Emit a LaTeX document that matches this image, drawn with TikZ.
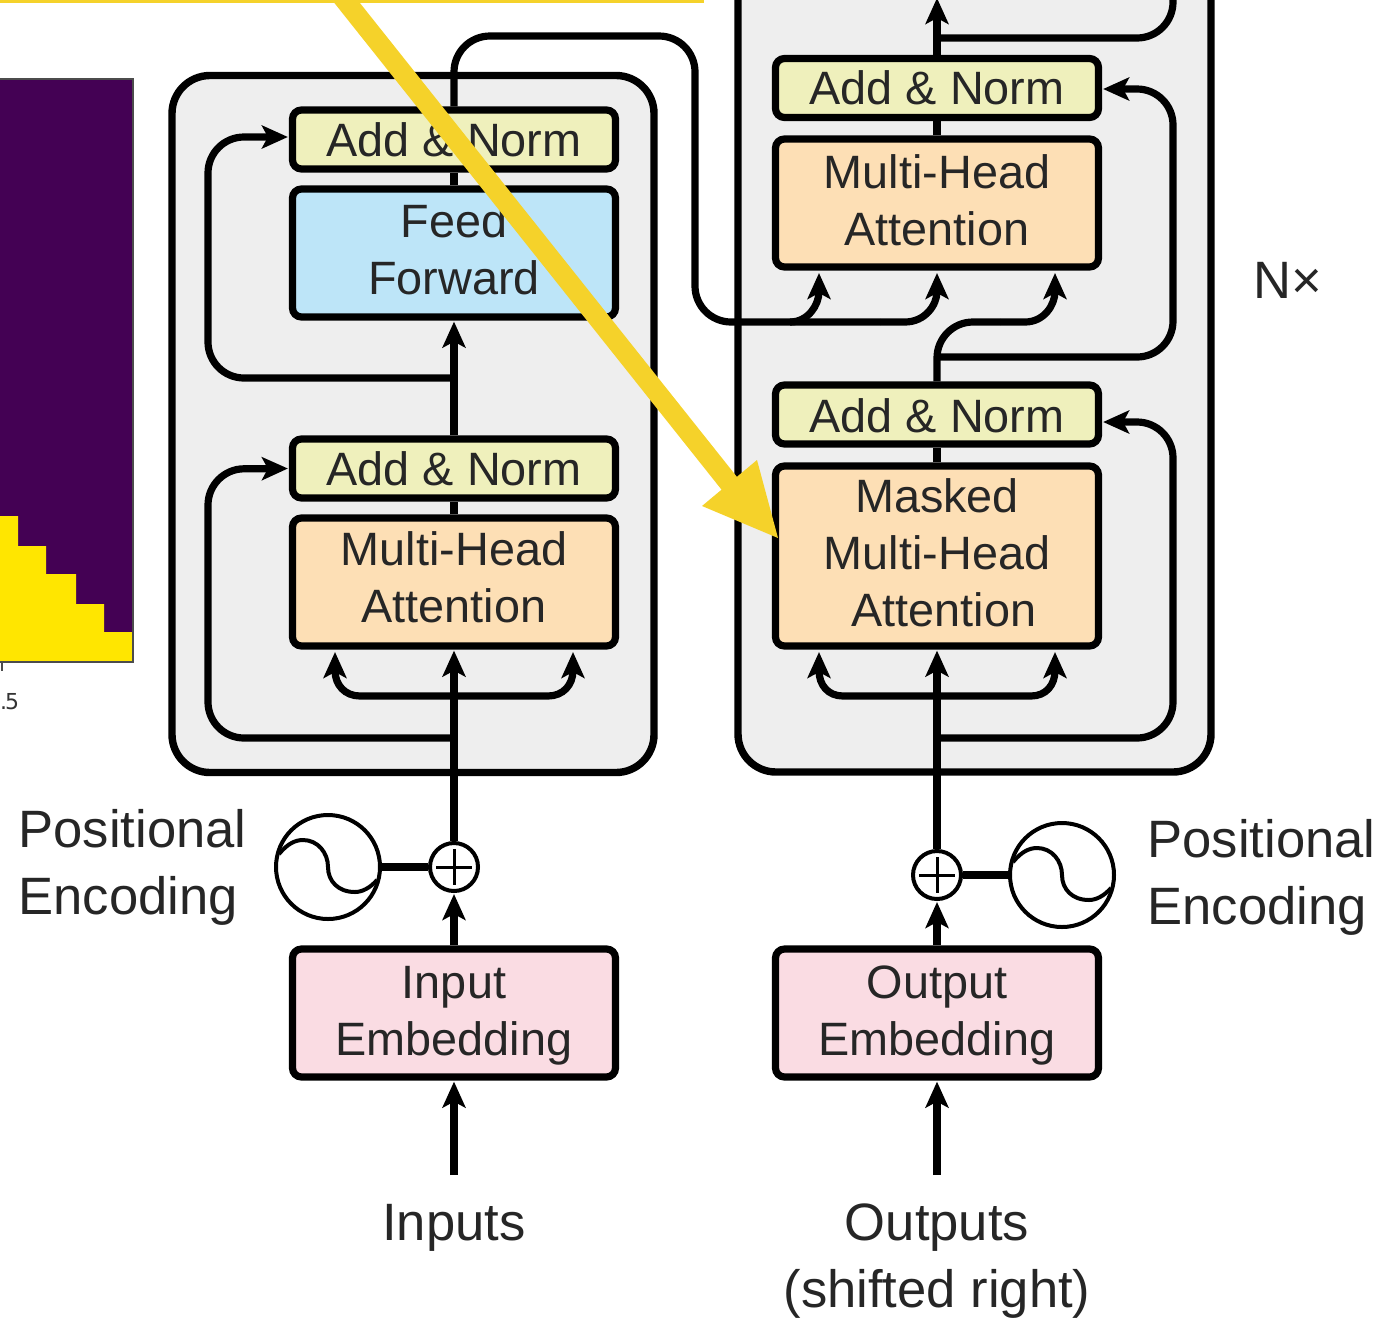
\documentclass[tikz,border=0pt]{standalone}
\usepackage{fontspec}
\setmainfont{Liberation Sans}
\usetikzlibrary{arrows.meta}
\definecolor{wrapgrey}{HTML}{EEEEEE}
\definecolor{normfill}{HTML}{EFF0BC}
\definecolor{attnfill}{HTML}{FDDFB5}
\definecolor{ffnfill}{HTML}{BDE5F8}
\definecolor{embfill}{HTML}{FADCE3}
\definecolor{markyellow}{HTML}{F5D22A}
\definecolor{vpurple}{HTML}{440154}
\definecolor{vyellow}{HTML}{FFE600}
\newcommand{\tlines}[2]{\raisebox{#1}[\height][\depth]{\begin{tabular}{@{}c@{}}#2\end{tabular}}}
\tikzset{
  x=0.5pt,y=-0.5pt,
  wrap/.style={draw=black,line width=3.7pt,fill=wrapgrey,rounded corners=19pt,inner sep=0pt},
  blockbox/.style={draw=black,line width=3.6pt,rounded corners=4.5pt,minimum width=161.5pt,inner sep=0pt,align=center,font=\fontsize{23.4}{28.5}\selectfont,text=black!85},
  normbox/.style={blockbox,fill=normfill,minimum height=29.5pt},
  twobox/.style={blockbox,minimum height=64pt},
  attnbox/.style={twobox,fill=attnfill},
  ffnbox/.style={twobox,fill=ffnfill},
  embbox/.style={twobox,fill=embfill},
  sumnode/.style={draw=black,line width=2pt,circle,minimum size=24pt,inner sep=0pt},
  oscnode/.style={draw=black,line width=2pt,circle,minimum size=52pt,inner sep=0pt},
  caption/.style={font=\fontsize{26.3}{33.5}\selectfont,text=black!85,inner sep=0pt,align=left},
  flow/.style={draw=black,line width=3.6pt,rounded corners=18pt},
  flowa/.style={flow,-{Stealth[length=13pt,width=11.5pt,inset=3pt]},shorten >=0.5pt},
  thin wave/.style={draw=black,line width=2pt},
  thin cross/.style={draw=black,line width=1.5pt},
}
\begin{document}
\begin{tikzpicture}
\useasboundingbox (0,0) rectangle (1380,1318);
% matrix plot
\node[draw=black!70,line width=0.6pt,fill=vpurple,minimum width=76.5pt,minimum height=291.5pt,inner sep=0pt] (plot) at (56.5,370.5) {};
\fill[vyellow] (-20,516) -- (18,516) -- (18,546) -- (46,546) -- (46,574) -- (76,574) -- (76,604) -- (104,604) -- (104,632) -- (133,632) -- (133,662) -- (-20,662) -- cycle;
\draw[black!70,line width=0.6pt] (133,632) -- (133,662) -- (-20,662);
\coordinate (tickend) at (2,671);
\draw[black!70,line width=0.7pt] (2,662) -- (tickend);
\node[font=\fontsize{11}{13}\selectfont\fontspec{DejaVu Sans},text=black!80,inner sep=0pt] (ticklabel) at (9.5,702) {.\kern-1pt 5};
% wrappers
\node[wrap,minimum width=241pt,minimum height=348.5pt] (lwrap) at (413,424) {};
\node[wrap,minimum width=236.5pt,minimum height=411.5pt] (rwrap) at (974.5,360.5) {};
% encoder blocks
\node[normbox] (lnormb) at (454,139.5) {\tlines{-3pt}{Add \& Norm}};
\node[ffnbox] (ffn) at (454,253) {\tlines{-0.75pt}{Feed\\Forward}};
\node[normbox] (lnorma) at (454,468.5) {\tlines{-3pt}{Add \& Norm}};
\node[attnbox] (lmha) at (454,582) {\tlines{-0.5pt}{Multi-Head\\Attention}};
\node[embbox] (inemb) at (454,1013) {\tlines{-1.5pt}{Input\\Embedding}};
% decoder blocks
\node[normbox] (rnormc) at (937,88) {\tlines{-2.5pt}{Add \& Norm}};
\node[attnbox] (rmha) at (937,203) {\tlines{-1.25pt}{Multi-Head\\Attention}};
\node[normbox] (rnorma) at (937,414.5) {\tlines{-3.5pt}{Add \& Norm}};
\node[blockbox,fill=attnfill,minimum height=90pt] (mask) at (937,556) {\tlines{-1pt}{Masked\\Multi-Head\\\hspace*{7pt}Attention}};
\node[embbox] (outemb) at (937,1013) {\tlines{-1.5pt}{Output\\Embedding}};
% positional encoding
\node[sumnode] (lplus) at (454,867) {};
\node[sumnode] (rplus) at (937,875) {};
\node[oscnode] (losc) at (328,867) {};
\node[oscnode] (rosc) at (1062,875) {};
\draw[thin cross] (lplus.center) ++(-18,0) -- ++(36,0) (lplus.center) ++(0,-18) -- ++(0,36);
\draw[thin cross] (rplus.center) ++(-18,0) -- ++(36,0) (rplus.center) ++(0,-18) -- ++(0,36);
\foreach \osc in {losc,rosc}
  \draw[thin wave,shift={(\osc.center)}] (-49,-13) .. controls (-40,-24) and (-32,-27) .. (-25,-27) .. controls (-10,-27) and (0,-14) .. (0,0) .. controls (0,14) and (10,25) .. (27,25) .. controls (34,25) and (42,21) .. (49,13);
\draw[flow] (losc) -- (lplus);
\draw[flow] (rplus) -- (rosc);
% labels
\node[caption,anchor=west] (lpos) at (18,867.5) {Positional\\Encoding};
\node[caption,anchor=west] (rpos) at (1147,877.5) {Positional\\Encoding};
\node[caption] (nx) at (1288,280) {N×};
\node[caption] (inputs) at (454,1228) {Inputs};
\node[caption,align=center] (outputs) at (937,1261) {Outputs\\(shifted right)};
% coordinates
\coordinate (infree) at (454,1175);
\coordinate (outfree) at (937,1175);
\coordinate (lbase) at (454,696);
\coordinate (rbase) at (937,696);
\coordinate (ltipa) at (335,651);
\coordinate (ltipb) at (573,651);
\coordinate (rtipa) at (819,651);
\coordinate (rtipb) at (1055,651);
\coordinate (qtip) at (819,272);
\coordinate (ktip) at (937,272);
\coordinate (vtip) at (1055,272);
\coordinate (topfree) at (937,-3);
\coordinate (rout) at (1173,-30);
% encoder connectors
\draw[flowa] (infree) -- (inemb.south);
\draw[flowa] (inemb.north) -- (lplus.south);
\draw[flowa] (lplus.north) -- (lmha.south);
\draw[flowa,rounded corners=0pt] (lbase) -- (360,696) .. controls (345,696) and (335,685) .. (ltipa);
\draw[flowa,rounded corners=0pt] (lbase) -- (548,696) .. controls (563,696) and (573,685) .. (ltipb);
\draw[flowa] (454,738) -- (208,738) -- (208,469) -- (lnorma.west);
\draw[flow] (lmha.north) -- (lnorma.south);
\draw[flowa] (lnorma.north) -- (ffn.south);
\draw[flowa] (454,378) -- (208,378) -- (208,137) -- (lnormb.west |- 0,137);
\draw[flow] (ffn.north) -- (lnormb.south);
\draw[flow] (lnormb.north) -- (454,36) -- (695,36) -- (695,322) -- (880,322);
\draw[flowa,rounded corners=0pt] (790,322) .. controls (808,322) and (819,305) .. (qtip);
\draw[flowa,rounded corners=0pt] (880,322) -- (905,322) .. controls (925,322) and (937,305) .. (ktip);
% decoder connectors
\draw[flowa] (outfree) -- (outemb.south);
\draw[flowa] (outemb.north) -- (rplus.south);
\draw[flowa] (rplus.north) -- (mask.south);
\draw[flowa,rounded corners=0pt] (rbase) -- (843,696) .. controls (828,696) and (819,685) .. (rtipa);
\draw[flowa,rounded corners=0pt] (rbase) -- (1031,696) .. controls (1046,696) and (1055,685) .. (rtipb);
\draw[flowa] (937,738) -- (1173,738) -- (1173,422) -- (rnorma.east |- 0,422);
\draw[flow] (mask.north) -- (rnorma.south);
\draw[flow] (rnorma.north) -- (937,322) -- (1000,322);
\draw[flowa,rounded corners=0pt] (1000,322) -- (1025,322) .. controls (1044,322) and (1055,305) .. (vtip);
\draw[flowa] (937,357) -- (1173,357) -- (1173,89) -- (rnormc.east |- 0,89);
\draw[flow] (rmha.north) -- (rnormc.south);
\draw[flowa] (rnormc.north) -- (topfree);
\draw[flow] (937,38) -- (1173,38) -- (rout);
% yellow annotation
\fill[markyellow] (-10,-6) rectangle (704,2.5);
\coordinate (ystart) at (340,-6);
\coordinate (ytip) at (778,538);
\draw[markyellow,line width=10pt] (ystart) -- (733,488);
\fill[markyellow] (ytip) -- (702,506) -- (757,460) -- cycle;
\end{tikzpicture}
\end{document}
